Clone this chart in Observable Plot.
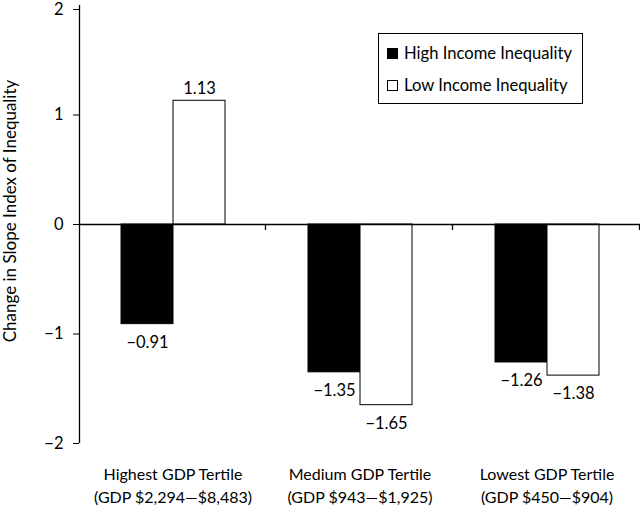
<!DOCTYPE html>
<html><head><meta charset="utf-8">
<script src="https://cdn.jsdelivr.net/npm/d3@7"></script>
<script src="https://cdn.jsdelivr.net/npm/@observablehq/plot@0.6"></script>
<style>
body{margin:0;background:#fff;}
#wrap{position:relative;width:640px;height:506px;font-family:Lato,"Open Sans",sans-serif;color:#000;}
#ytitle{position:absolute;left:9px;top:211px;transform:translate(-50%,-50%) rotate(-90deg);white-space:nowrap;font-size:17px;}
#legend{position:absolute;left:378px;top:33px;width:205px;height:71px;border:1px solid #000;box-sizing:border-box;background:#fff;font-size:16.6px;}
#legend .row{position:absolute;left:8px;display:flex;align-items:center;white-space:nowrap;}
#legend .sw{width:11px;height:11px;border:1px solid #000;margin-right:6px;box-sizing:border-box;}
</style></head>
<body><div id="wrap"></div>
<script>
const categories = ["Highest GDP Tertile\n(GDP $2,294—$8,483)", "Medium GDP Tertile\n(GDP $943—$1,925)", "Lowest GDP Tertile\n(GDP $450—$904)"];
const series = ["High Income Inequality", "Low Income Inequality"];
const highValues = [-0.91, -1.35, -1.26];
const lowValues = [1.13, -1.65, -1.38];
const yTicks = [-2, -1, 0, 1, 2];
const seriesFill = ["#000000", "#ffffff"];
const yTitle = "Change in Slope Index of Inequality";

const data = categories.flatMap((c, i) => [
  {category: c, series: series[0], value: highValues[i]},
  {category: c, series: series[1], value: lowValues[i]}
]);
const fmt = v => (v < 0 ? "\u2212" : "") + Math.abs(v).toFixed(2);
const fmtInt = v => (v < 0 ? "\u2212" : "") + Math.abs(v);
const yMax = d3.max(yTicks);

const plot = Plot.plot({
  width: 640, height: 506,
  marginLeft: 79, marginRight: 0, marginTop: 5, marginBottom: 63,
  style: {fontFamily: "Lato, 'Open Sans', sans-serif", fontSize: "16px", background: "#fff", color: "#000", overflow: "visible"},
  fx: {domain: categories, padding: 0, label: null, axis: null},
  x: {domain: series, paddingInner: 0, paddingOuter: 0.765, axis: null},
  y: {domain: [d3.min(yTicks), yMax], axis: null},
  color: {domain: series, range: seriesFill},
  marks: [
    Plot.barY(data, {fx: "category", x: "series", y: "value", fill: "series", stroke: "#000", strokeWidth: 1}),
    Plot.ruleY([0], {stroke: "#000", strokeWidth: 1.3}),
    Plot.text(data.filter(d => d.value >= 0), {fx: "category", x: "series", y: "value", text: d => fmt(d.value), lineAnchor: "bottom", dy: -7, fontSize: 16.5}),
    Plot.text(data.filter(d => d.value < 0), {fx: "category", x: "series", y: "value", text: d => fmt(d.value), lineAnchor: "top", dy: 12, fontSize: 16.5}),
    Plot.axisY({ticks: yTicks.filter(v => v !== yMax), tickSize: 6, tickPadding: 10, tickFormat: fmtInt, label: null, fontSize: 16.5}),
    Plot.axisY({ticks: [yMax], tickSize: 6, tickPadding: 10, tickFormat: fmtInt, label: null, fontSize: 16.5, dy: 4}),
    Plot.axisFx({anchor: "bottom", tickSize: 0, tickPadding: 21, label: null, lineHeight: 1.4, fontSize: 16})
  ]
});

// y axis line and category boundary ticks on the zero line
const svg = d3.select(plot.tagName.toLowerCase() === "svg" ? plot : plot.querySelector("svg"));
const fxS = plot.scale("fx"), yS = plot.scale("y");
const yMap = v => yS.apply ? yS.apply(v) : yS.range[0] + (v - yS.domain[0]) / (yS.domain[1] - yS.domain[0]) * (yS.range[1] - yS.range[0]);
const r0 = Math.min(...fxS.range);
const step = fxS.step;
const g = svg.append("g").attr("stroke", "#000");
g.append("line").attr("x1", r0 + 0.5).attr("x2", r0 + 0.5).attr("y1", yMap(yMax)).attr("y2", yMap(d3.min(yTicks))).attr("stroke-width", 1.3);
categories.forEach((c, i) => {
  const bx = Math.round(r0 + step * (i + 1)) - 0.5;
  g.append("line").attr("x1", bx).attr("x2", bx).attr("y1", yMap(0)).attr("y2", yMap(0) + 6).attr("stroke-width", 1.3);
});

const wrap = document.getElementById("wrap");
wrap.appendChild(plot);
const t = document.createElement("div"); t.id = "ytitle"; t.textContent = yTitle; wrap.appendChild(t);
const lg = document.createElement("div"); lg.id = "legend";
series.forEach((s, i) => {
  const row = document.createElement("div"); row.className = "row"; row.style.top = (i === 0 ? 9 : 41) + "px";
  const sw = document.createElement("span"); sw.className = "sw"; sw.style.background = seriesFill[i];
  const tx = document.createElement("span"); tx.textContent = s;
  row.appendChild(sw); row.appendChild(tx); lg.appendChild(row);
});
wrap.appendChild(lg);
</script>
</body></html>
